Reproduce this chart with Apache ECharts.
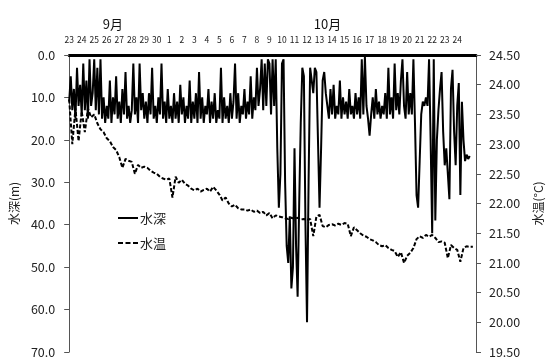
<!DOCTYPE html>
<html>
<head>
<meta charset="utf-8">
<script src="https://cdn.jsdelivr.net/npm/echarts@6/dist/echarts.min.js"></script>
<style>
  html, body { margin: 0; padding: 0; background: #fff; }
  #chart { width: 552px; height: 359px; }
</style>
</head>
<body>
<div id="chart"></div>
<script>
// Date labels along the top axis (Sep 23 - Oct 24), one per day
const dayLabels = ['23','24','25','26','27','28','29','30','1','2','3','4','5','6','7','8','9',
  '10','11','12','13','14','15','16','17','18','19','20','21','22','23','24'];
const monthLabels = [{ text: '9月', day: 3.55 }, { text: '10月', day: 20.2 }];
const seriesNames = ['水深', '水温'];

// Depth (m), sampled every 3 hours from Sep 23 00:00
const depthStepDays = 1 / 8;
const depth = [
  11, 5, 13, 8, 15, 3, 12, 7,
  14, 2, 13, 6, 15, 1, 12, 9,
  1, 13, 3, 14, 1, 15, 10, 16,
  12, 15, 6, 16, 10, 14, 5, 15,
  11, 16, 8, 14, 4, 15, 12, 16,
  13, 2, 14, 10, 16, 2, 13, 9,
  15, 11, 16, 9, 14, 3, 15, 12,
  16, 10, 14, 2, 15, 11, 16, 8,
  15, 12, 16, 9, 15, 11, 16, 7,
  14, 10, 16, 12, 15, 6, 16, 11,
  15, 9, 16, 4, 15, 10, 16, 12,
  14, 8, 16, 11, 15, 9, 16, 13,
  15, 3, 16, 10, 15, 12, 16, 9,
  15, 11, 2, 15, 9, 16, 12, 14,
  8, 15, 11, 14, 5, 15, 10, 13,
  3, 12, 8, 1, 13, 2, 12, 1,
  2, 14, 1, 12, 1, 22, 36, 28,
  2, 1, 30, 45, 49, 38, 55, 50,
  22, 45, 57, 35, 16, 3, 5, 40,
  63, 30, 3, 6, 9, 3, 4, 20,
  36, 22, 6, 4, 9, 12, 15, 8,
  14, 7, 15, 12, 14, 6, 15, 10,
  14, 11, 15, 8, 14, 12, 15, 9,
  14, 10, 15, 1, 14, 0.5, 12, 15,
  19, 14, 10, 15, 8, 14, 11, 15,
  12, 14, 9, 15, 3, 14, 10, 15,
  2, 13, 9, 14, 6, 1, 12, 15,
  4, 14, 9, 14, 1, 16, 33, 36,
  25, 14, 11, 12, 10, 12, 1, 20,
  42, 1, 39, 20, 13, 8, 4, 18,
  26, 22, 28, 34, 8, 3.5, 18, 26,
  12, 6.6, 33, 11, 20, 25, 23.5, 24.5,
  23.8
];

// Water temperature (°C), sampled every 6 hours from Sep 23 00:00
const tempStepDays = 1 / 4;
const temperature = [
  23.75, 23.0, 23.6, 23.05,
  23.55, 23.2, 23.6, 23.45,
  23.5, 23.35, 23.25, 23.2,
  23.1, 23.05, 22.95, 22.9,
  22.78, 22.6, 22.75, 22.72,
  22.7, 22.5, 22.65, 22.6,
  22.62, 22.6, 22.55, 22.52,
  22.5, 22.45, 22.42, 22.4,
  22.42, 22.1, 22.45, 22.35,
  22.4, 22.33, 22.3, 22.25,
  22.22, 22.25, 22.2, 22.23,
  22.25, 22.2, 22.28, 22.22,
  22.15, 22.05, 22.1, 22.0,
  21.95, 21.98, 21.92, 21.9,
  21.9, 21.88, 21.9, 21.86,
  21.88, 21.84, 21.86, 21.8,
  21.84, 21.75, 21.8, 21.78,
  21.77, 21.75, 21.74, 21.76,
  21.74, 21.76, 21.73, 21.74,
  21.72, 21.74, 21.45, 21.78,
  21.81, 21.62, 21.6, 21.64,
  21.65, 21.63, 21.66, 21.64,
  21.67, 21.66, 21.45, 21.6,
  21.55, 21.5, 21.46, 21.44,
  21.4, 21.38, 21.35, 21.3,
  21.28, 21.3, 21.25, 21.22,
  21.2, 21.1, 21.18, 21.0,
  21.12, 21.17, 21.25, 21.4,
  21.45, 21.42, 21.47, 21.44,
  21.47, 21.42, 21.35, 21.36,
  21.34, 21.08, 21.3, 21.25,
  21.22, 21.02, 21.25, 21.28,
  21.27, 21.27
];

const depthSeries = depth.map((v, i) => [i * depthStepDays, v]);
const tempSeries = temperature.map((v, i) => [i * tempStepDays, v]);

const FONT = '"Noto Sans CJK JP", "Noto Sans", sans-serif';
const chart = echarts.init(document.getElementById('chart'));

const grid = { left: 67, right: 66, top: 55, bottom: 7 };
const xMax = 32.5;
const plotW = 552 - grid.left - grid.right;

// Month captions above the day labels
const monthGraphics = monthLabels.map(m => ({
  type: 'text',
  x: grid.left + plotW * m.day / xMax,
  y: 24,
  style: { text: m.text, font: '13px ' + FONT, fill: '#111', align: 'center', verticalAlign: 'middle' }
}));

// Legend drawn as plain line + text pairs
const legendGraphics = [
  { type: 'line', shape: { x1: 118, y1: 218, x2: 138, y2: 218 }, style: { stroke: '#000', lineWidth: 2 } },
  { type: 'text', x: 140, y: 218, style: { text: seriesNames[0], font: '13px ' + FONT, fill: '#222', verticalAlign: 'middle' } },
  { type: 'line', shape: { x1: 118, y1: 243, x2: 138, y2: 243 }, style: { stroke: '#000', lineWidth: 2, lineDash: [5, 2.5] } },
  { type: 'text', x: 140, y: 243, style: { text: seriesNames[1], font: '13px ' + FONT, fill: '#222', verticalAlign: 'middle' } }
];

chart.setOption({
  animation: false,
  textStyle: { fontFamily: FONT },
  grid: grid,
  xAxis: {
    type: 'value',
    position: 'top',
    min: 0,
    max: xMax,
    interval: 1,
    axisLine: { show: true, lineStyle: { color: '#000', width: 3 } },
    axisTick: { show: false },
    splitLine: { show: false },
    axisLabel: {
      fontFamily: FONT,
      fontSize: 8.5,
      color: '#222',
      margin: 11,
      showMaxLabel: false,
      formatter: v => (Number.isInteger(v) && v < dayLabels.length) ? dayLabels[v] : ''
    }
  },
  yAxis: [
    {
      type: 'value',
      inverse: true,
      min: 0,
      max: 70,
      interval: 10,
      name: '水深(m)',
      nameLocation: 'middle',
      nameRotate: 90,
      nameGap: 42,
      nameTextStyle: { fontFamily: FONT, fontSize: 12, color: '#222' },
      axisLine: { show: true, lineStyle: { color: '#555', width: 1 } },
      axisTick: { show: true, length: 5, lineStyle: { color: '#555' } },
      splitLine: { show: false },
      axisLabel: { fontFamily: FONT, fontSize: 12.5, color: '#222', margin: 14,
        formatter: v => v.toFixed(1) }
    },
    {
      type: 'value',
      position: 'right',
      min: 19.5,
      max: 24.5,
      interval: 0.5,
      name: '水温(°C)',
      nameLocation: 'middle',
      nameRotate: 90,
      nameGap: 56,
      nameTextStyle: { fontFamily: FONT, fontSize: 12, color: '#222' },
      axisLine: { show: true, lineStyle: { color: '#555', width: 1 } },
      axisTick: { show: true, length: 5, lineStyle: { color: '#555' } },
      splitLine: { show: false },
      axisLabel: { fontFamily: FONT, fontSize: 12.5, color: '#222', margin: 13,
        formatter: v => v.toFixed(2) }
    }
  ],
  graphic: monthGraphics.concat(legendGraphics),
  series: [
    {
      name: seriesNames[0],
      type: 'line',
      yAxisIndex: 0,
      data: depthSeries,
      symbol: 'none',
      lineStyle: { color: '#000', width: 2 },
      z: 3
    },
    {
      name: seriesNames[1],
      type: 'line',
      yAxisIndex: 1,
      data: tempSeries,
      symbol: 'none',
      lineStyle: { color: '#000', width: 2, type: [4, 2] },
      z: 2
    }
  ]
});
</script>
</body>
</html>
